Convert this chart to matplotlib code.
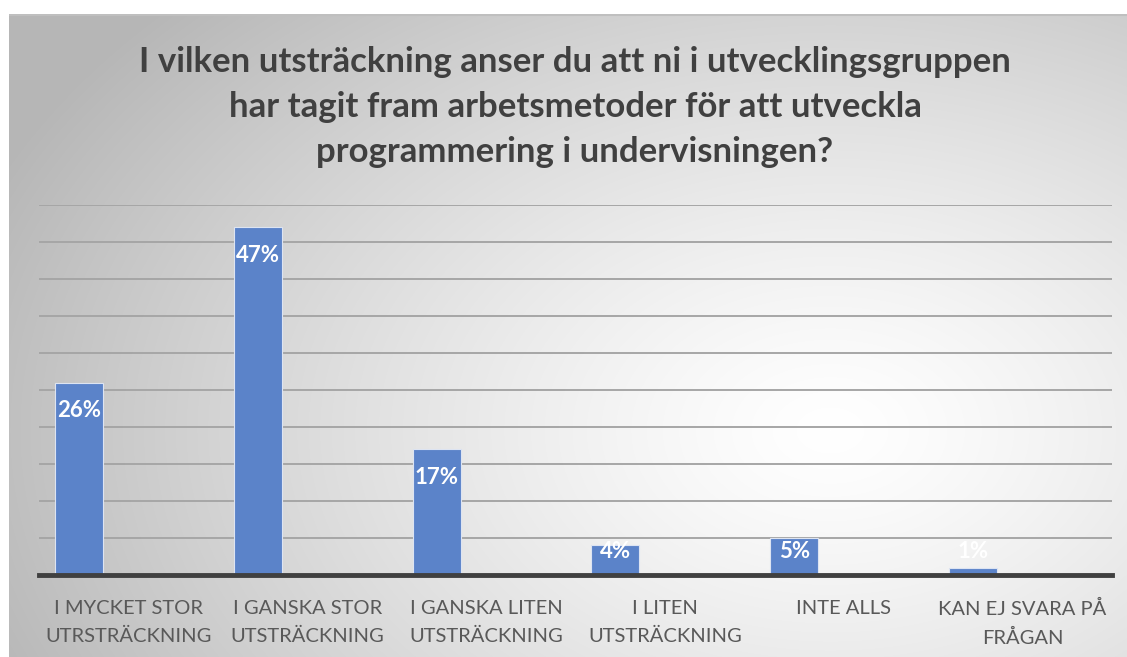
import matplotlib.pyplot as plt
import numpy as np

categories = ["I MYCKET STOR\nUTRSTRÄCKNING", "I GANSKA STOR\nUTSTRÄCKNING",
              "I GANSKA LITEN\nUTSTRÄCKNING", "I LITEN\nUTSTRÄCKNING",
              "INTE ALLS", "KAN EJ SVARA PÅ\nFRÅGAN"]
values = [26, 47, 17, 4, 5, 1]
labels = ["26%", "47%", "17%", "4%", "5%", "1%"]
title = ("I vilken utsträckning anser du att ni i utvecklingsgruppen\n"
         "har tagit fram arbetsmetoder för att utveckla\n"
         "programmering i undervisningen?")

W, H = 1127, 657
fig = plt.figure(figsize=(W / 100, H / 100), dpi=100)
fig.patch.set_facecolor("white")

# radial grey background of the chart frame
bg = fig.add_axes([9 / W, 0, 1 - 9 / W, 1 - 14 / H])
yy, xx = np.mgrid[14:H, 9:W]
d = np.sqrt(((xx - 830) / 830) ** 2 + ((yy - 430) / 560) ** 2)
shade = 255 - 64 * np.clip(d, 0, 1.1) ** 1.3
img = np.dstack([shade, shade, shade]) / 255
bg.imshow(img, aspect="auto", interpolation="bilinear")
bg.axhline(0, color="#bfbfbf", linewidth=1.5)
bg.axis("off")

fig.text(575 / W, 1 - 107 / H, title, ha="center", va="center", fontsize=25,
         fontweight="bold", color="#404040", family="Lato", linespacing=1.5)

ax = fig.add_axes([39 / W, (H - 575) / H, 1073 / W, 370 / H])
ax.patch.set_alpha(0)
x = np.arange(len(values))
ax.bar(x + 16 / 179, values, width=48 / 179, align="edge", color="#5b83c9",
       edgecolor="#dde4f2", linewidth=0.8, zorder=3)
for i, (v, lab) in enumerate(zip(values, labels)):
    ax.text(i + 40 / 179, max(v - 3.8, 3.2), lab, ha="center", va="center",
            color="white", fontsize=16, fontweight="bold", family="Lato", zorder=4)

ax.set_xlim(0, 6)
ax.set_ylim(0, 50)
ax.set_yticks(np.arange(5, 51, 5))
ax.yaxis.grid(True, color="#a6a6a6", linewidth=1.4, zorder=1)
ax.tick_params(axis="y", left=False, labelleft=False)
ax.set_xticks(x + 0.5)
ax.set_xticklabels(categories, fontsize=14.5, color="#595959", family="Lato",
                   linespacing=1.75)
ax.tick_params(axis="x", length=0, pad=18)
for s in ["top", "right", "left"]:
    ax.spines[s].set_visible(False)
ax.spines["bottom"].set_color("#404040")
ax.spines["bottom"].set_linewidth(3.5)
ax.spines["bottom"].set_zorder(5)

fig.savefig("out.png", dpi=100)
